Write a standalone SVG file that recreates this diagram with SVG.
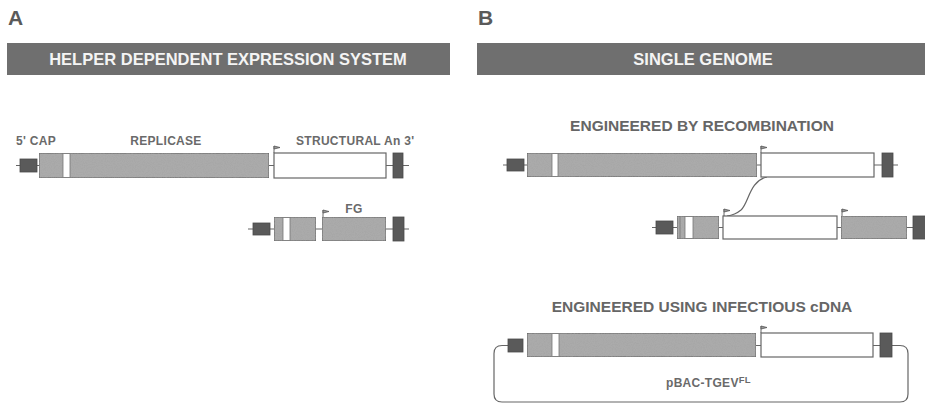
<svg xmlns="http://www.w3.org/2000/svg" width="925" height="405" viewBox="0 0 925 405">
<style>
.panel{font-family:"Liberation Sans",Arial,sans-serif;font-weight:bold;fill:#5a5a5a}
.banner{fill:#6f6f6f}
.btxt{font-family:"Liberation Sans",Arial,sans-serif;font-weight:bold;font-size:16.5px;fill:#f4f4f4}
.lbl{font-family:"Liberation Sans",Arial,sans-serif;font-weight:bold;font-size:12px;fill:#6a6a6a;letter-spacing:0.3px}
.sub{font-family:"Liberation Sans",Arial,sans-serif;font-weight:bold;font-size:15.5px;fill:#666}
.g{fill:#ababab;stroke:#666;stroke-width:1.2;filter:url(#grain)}
.w{fill:#fff;stroke:#666;stroke-width:1.2}
.band{fill:#fff;stroke:#777;stroke-width:0.8}
.d{fill:#5a5a5a;stroke:#4a4a4a;stroke-width:0.8}
.ln{fill:none;stroke:#666;stroke-width:1.2}
.flag{fill:#999;stroke:#555;stroke-width:0.8}
</style>
<defs>
<filter id="grain" x="0" y="0" width="100%" height="100%">
<feTurbulence type="fractalNoise" baseFrequency="0.9" numOctaves="2" seed="3" result="n"/>
<feColorMatrix in="n" type="matrix" values="0 0 0 0 0.35  0 0 0 0 0.35  0 0 0 0 0.35  0 0 0 0.9 -0.3" result="g"/>
<feComposite in="g" in2="SourceGraphic" operator="in" result="gi"/>
<feMerge><feMergeNode in="SourceGraphic"/><feMergeNode in="gi"/></feMerge>
</filter>
<symbol id="flagsym" overflow="visible">
<path d="M0 0 V-7" stroke="#555" stroke-width="0.9" fill="none"/>
<path class="flag" d="M0 -7 L6 -5.5 L0 -4 Z"/>
</symbol>
</defs>

<!-- Panel headers -->
<g id="panelA">
<text class="panel" x="8" y="25" font-size="21">A</text>
<rect class="banner" x="7" y="43" width="443" height="32"/>
<text class="btxt" x="228" y="65" text-anchor="middle">HELPER DEPENDENT EXPRESSION SYSTEM</text>
</g>
<g id="panelB">
<text class="panel" x="478" y="25" font-size="21">B</text>
<rect class="banner" x="477" y="43" width="448" height="32"/>
<text class="btxt" x="703" y="65" text-anchor="middle">SINGLE GENOME</text>
<text class="sub" x="702" y="131" text-anchor="middle">ENGINEERED BY RECOMBINATION</text>
<text class="sub" x="702" y="312" text-anchor="middle">ENGINEERED USING INFECTIOUS cDNA</text>
</g>

<!-- Connectors: backbones, recombination curve, plasmid loop -->
<g id="connectors">
<line class="ln" x1="16" y1="165.5" x2="409" y2="165.5"/>
<line class="ln" x1="248" y1="229" x2="409" y2="229"/>
<line class="ln" x1="503" y1="165" x2="898" y2="165"/>
<line class="ln" x1="652" y1="227.5" x2="925" y2="227.5"/>
<path class="ln" d="M767 177 C749 181 749 203 741 210 Q735 215 727 216"/>
<path class="ln" d="M508 345.5 H502 Q494 345.5 494 353.5 V394 Q494 402 502 402 H900 Q908 402 908 394 V353.5 Q908 345.5 900 345.5 H756"/>
</g>

<!-- Panel A, helper genome -->
<g id="helper">
<text class="lbl" x="16" y="145">5' CAP</text>
<text class="lbl" x="166" y="145" text-anchor="middle">REPLICASE</text>
<text class="lbl" x="296" y="145">STRUCTURAL An 3'</text>
<rect class="d" x="20" y="159" width="17" height="13"/>
<rect class="g" x="39" y="153" width="230" height="25"/>
<rect class="band" x="63" y="153.6" width="7" height="23.8"/>
<rect class="w" x="274" y="153" width="112" height="25"/>
<use href="#flagsym" x="274" y="153"/>
<rect class="d" x="393" y="153" width="10" height="25"/>
</g>

<!-- Panel A, minigenome with FG -->
<g id="minigenome">
<text class="lbl" x="354" y="213" text-anchor="middle">FG</text>
<rect class="d" x="253" y="223" width="17" height="12"/>
<rect class="g" x="274" y="217" width="42" height="24"/>
<rect class="band" x="283" y="217.6" width="7" height="22.8"/>
<rect class="g" x="322" y="217" width="64" height="24"/>
<use href="#flagsym" x="323" y="217"/>
<rect class="d" x="393" y="217" width="11" height="24"/>
</g>

<!-- Panel B, recombination: genome -->
<g id="recomb-genome">
<rect class="d" x="507" y="159" width="17" height="12"/>
<rect class="g" x="527" y="153" width="230" height="24"/>
<rect class="band" x="552" y="153.6" width="6" height="22.8"/>
<rect class="w" x="761" y="153" width="113" height="24"/>
<use href="#flagsym" x="761" y="153"/>
<rect class="d" x="882" y="153" width="11" height="24"/>
</g>

<!-- Panel B, recombination: donor -->
<g id="recomb-donor">
<rect class="d" x="656" y="221" width="17" height="13"/>
<rect class="g" x="677" y="216" width="42" height="23"/>
<line x1="680" y1="216" x2="680" y2="239" stroke="#777" stroke-width="0.8"/>
<rect class="band" x="685" y="216.6" width="8" height="21.8"/>
<rect class="w" x="723" y="216" width="114" height="23"/>
<use href="#flagsym" x="724" y="216"/>
<rect class="g" x="841" y="216" width="66" height="23"/>
<use href="#flagsym" x="842" y="216"/>
<rect class="d" x="913" y="216" width="13" height="23"/>
</g>

<!-- Panel B, infectious cDNA clone -->
<g id="pbac">
<rect class="d" x="508" y="339" width="15" height="13"/>
<rect class="g" x="527" y="333" width="229" height="24"/>
<rect class="band" x="552" y="333.6" width="7" height="22.8"/>
<rect class="w" x="761" y="333" width="112" height="24"/>
<use href="#flagsym" x="761" y="333"/>
<rect class="d" x="880" y="333" width="12" height="24"/>
<text class="lbl" x="666" y="387">pBAC-TGEV<tspan font-size="9.5" dy="-4">FL</tspan></text>
</g>
</svg>
